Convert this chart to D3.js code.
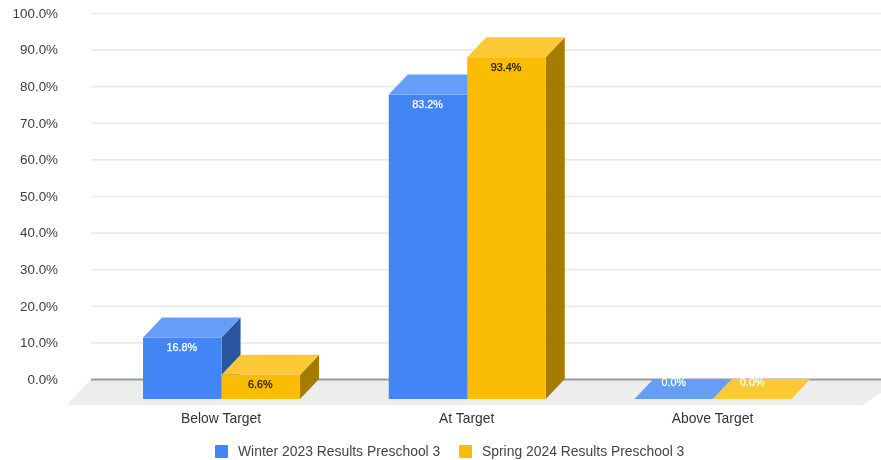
<!DOCTYPE html>
<html>
<head>
<meta charset="utf-8">
<script src="https://cdn.jsdelivr.net/npm/d3@7/dist/d3.min.js"></script>
<style>
html,body{margin:0;padding:0;background:#fff;overflow:hidden}
svg{display:block;filter:blur(0.55px)}
text{font-family:"Liberation Sans",Arial,sans-serif}
</style>
</head>
<body>
<svg id="c" width="881" height="460"></svg>
<script>
const categories = ["Below Target", "At Target", "Above Target"];
const seriesNames = ["Winter 2023 Results Preschool 3", "Spring 2024 Results Preschool 3"];
const winter = [16.8, 83.2, 0.0];
const spring = [6.6, 93.4, 0.0];
const yTicks = [0,10,20,30,40,50,60,70,80,90,100];
const front = ["#4285f4", "#fbbc04"];
const topFace = ["#669df6", "#fcc934"];
const sideFace = ["#2a56a0", "#a67c00"];
const labelFill = ["#ffffff", "#1f1a00"];

const W = 881, H = 460;
const svg = d3.select("#c");
const y = d3.scaleLinear().domain([0,100]).range([379,13]);
const x0 = d3.scaleBand().domain(categories).range([98.7,835.8]);
const barW = 78.5;
const x1 = d3.scaleBand().domain([0,1]).range([x0.bandwidth()/2-barW, x0.bandwidth()/2+barW]);
const dx = 19, dy = 20;
const fmt = v => v.toFixed(1) + "%";

// floor
svg.append("path")
  .attr("d", `M91,${y(0)}L${W+20},${y(0)}L863,${y(0)+26}L67,${y(0)+26}Z`)
  .attr("fill", "#ededed");

// axis and gridlines
const axis = d3.axisLeft(y).tickValues(yTicks).tickFormat(d => d.toFixed(1)+"%")
  .tickSize(-(W-91)).tickPadding(33);
const gAxis = svg.append("g").attr("transform","translate(91,0)").call(axis);
gAxis.select(".domain").remove();
gAxis.selectAll(".tick line")
  .attr("stroke", d => d===0 ? "#9a9a9a" : "#e9e9e9")
  .attr("stroke-width", d => d===0 ? 2 : 1.6);
gAxis.selectAll(".tick text")
  .attr("fill","#3c3c3c").attr("font-size",13.4);

// bars
const rows = categories.map((c,i)=>({c, vals:[winter[i], spring[i]]}));
const groups = svg.selectAll(".grp").data(rows).join("g")
  .attr("class","grp")
  .attr("transform", d=>`translate(${x0(d.c)},0)`);

groups.each(function(d){
  const g = d3.select(this);
  // winter first so spring overlaps its side
  d.vals.forEach((v,s)=>{
    const l = x1(s), r = l + barW;
    const b = y(0)+dy, t = y(v)+dy;
    if (v > 0) {
      g.append("path").attr("fill", sideFace[s])
        .attr("d",`M${r},${t}L${r+dx},${t-dy}L${r+dx},${b-dy}L${r},${b}Z`);
      g.append("rect").attr("fill", front[s])
        .attr("x",l).attr("y",t).attr("width",barW).attr("height",b-t);
    }
    g.append("path").attr("fill", topFace[s])
      .attr("d",`M${l},${t}L${l+dx},${t-dy}L${r+dx},${t-dy}L${r},${t}Z`);
  });
  d.vals.forEach((v,s)=>{
    const l = x1(s);
    g.append("text")
      .attr("x", l+barW/2 - (v===0?0:0.5))
      .attr("y", v===0 ? y(0)+7 : y(v)+dy+13.5)
      .attr("text-anchor","middle")
      .attr("font-size",10.8)
      .attr("stroke", labelFill[s===1&&v===0?0:s])
      .attr("stroke-width",0.25)
      .attr("fill", labelFill[s===1&&v===0?0:s])
      .text(fmt(v));
  });
});

// category labels
svg.selectAll(".cat").data(categories).join("text")
  .attr("class","cat")
  .attr("x", d=>x0(d)+x0.bandwidth()/2 - 0.5)
  .attr("y", 423)
  .attr("text-anchor","middle")
  .attr("font-size",13.9)
  .attr("fill","#333")
  .text(d=>d);

// legend
const legX = d3.scaleOrdinal().domain([0,1]).range([215,459]);
const leg = svg.selectAll(".leg").data(seriesNames).join("g")
  .attr("class","leg")
  .attr("transform",(d,i)=>`translate(${legX(i)},445)`);
leg.append("rect").attr("width",13).attr("height",13).attr("rx",1)
  .attr("fill",(d,i)=>front[i]);
leg.append("text").attr("x",23).attr("y",11)
  .attr("font-size",13.9).attr("fill","#444").text(d=>d);
</script>
</body>
</html>
